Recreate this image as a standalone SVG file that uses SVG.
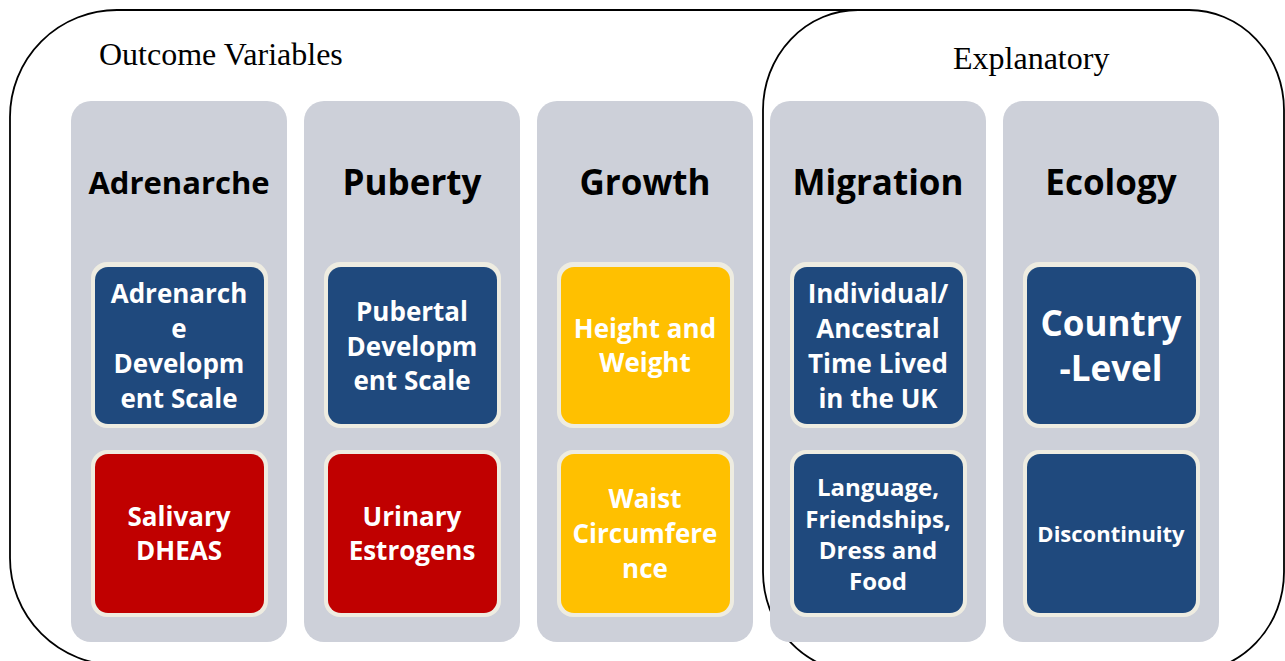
<svg xmlns="http://www.w3.org/2000/svg" width="1285" height="661" viewBox="0 0 1285 661">
<style>
.frame{fill:#fff;stroke:#000;stroke-width:1.8}
.col{fill:#CDD0D9}
.rim{fill:#EEECE1}
.blue{fill:#1F497D}
.red{fill:#C00000}
.yel{fill:#FFC000}
.title{font-family:"Open Sans","DejaVu Sans",sans-serif;font-weight:700;font-size:35px;fill:#000;text-anchor:middle}
.lbl{font-family:"Open Sans","DejaVu Sans",sans-serif;font-weight:700;fill:#fff;text-anchor:middle;dominant-baseline:central}
.serif{font-family:"Liberation Serif","Times New Roman",serif;font-size:32px;fill:#000}
</style>
<g id="outcome-frame">
<rect class="frame" x="10" y="10" width="1000" height="655" rx="107" ry="107"/>
<text class="serif" x="99" y="65">Outcome Variables</text>
</g>
<g id="explanatory-frame">
<rect class="frame" x="763" y="10" width="521" height="662" rx="95" ry="100"/>
<text class="serif" x="953" y="69">Explanatory</text>
</g>
<g id="adrenarche">
<rect class="col" x="71" y="101" width="216" height="541" rx="20"/>
<text class="title" x="179" y="194" style="font-size:31px">Adrenarche</text>
<rect class="rim" x="91" y="262" width="177" height="166" rx="16"/>
<rect class="blue" x="95" y="267" width="169" height="157" rx="13"/>
<text class="lbl" font-size="26"><tspan x="179" y="293">Adrenarch</tspan><tspan x="179" y="328">e</tspan><tspan x="179" y="363">Developm</tspan><tspan x="179" y="398">ent Scale</tspan></text>
<rect class="rim" x="91" y="450" width="177" height="167" rx="16"/>
<rect class="red" x="95" y="454" width="169" height="159" rx="13"/>
<text class="lbl" font-size="26"><tspan x="179" y="516">Salivary</tspan><tspan x="179" y="550">DHEAS</tspan></text>
</g>
<g id="puberty">
<rect class="col" x="304" y="101" width="216" height="541" rx="20"/>
<text class="title" x="412" y="195">Puberty</text>
<rect class="rim" x="324" y="262" width="177" height="166" rx="16"/>
<rect class="blue" x="328" y="267" width="169" height="157" rx="13"/>
<text class="lbl" font-size="26"><tspan x="412" y="311">Pubertal</tspan><tspan x="412" y="346">Developm</tspan><tspan x="412" y="380">ent Scale</tspan></text>
<rect class="rim" x="324" y="450" width="177" height="167" rx="16"/>
<rect class="red" x="328" y="454" width="169" height="159" rx="13"/>
<text class="lbl" font-size="26"><tspan x="412" y="516">Urinary</tspan><tspan x="412" y="550">Estrogens</tspan></text>
</g>
<g id="growth">
<rect class="col" x="537" y="101" width="216" height="541" rx="20"/>
<text class="title" x="645" y="195">Growth</text>
<rect class="rim" x="557" y="262" width="177" height="166" rx="16"/>
<rect class="yel" x="561" y="267" width="169" height="157" rx="13"/>
<text class="lbl" font-size="26"><tspan x="645" y="328">Height and</tspan><tspan x="645" y="362">Weight</tspan></text>
<rect class="rim" x="557" y="450" width="177" height="167" rx="16"/>
<rect class="yel" x="561" y="454" width="169" height="159" rx="13"/>
<text class="lbl" font-size="26"><tspan x="645" y="498">Waist</tspan><tspan x="645" y="533">Circumfere</tspan><tspan x="645" y="568">nce</tspan></text>
</g>
<g id="migration">
<rect class="col" x="770" y="101" width="216" height="541" rx="20"/>
<text class="title" x="878" y="195">Migration</text>
<rect class="rim" x="790" y="262" width="177" height="166" rx="16"/>
<rect class="blue" x="794" y="267" width="169" height="157" rx="13"/>
<text class="lbl" font-size="26"><tspan x="878" y="293">Individual/</tspan><tspan x="878" y="328">Ancestral</tspan><tspan x="878" y="363">Time Lived</tspan><tspan x="878" y="398">in the UK</tspan></text>
<rect class="rim" x="790" y="450" width="177" height="167" rx="16"/>
<rect class="blue" x="794" y="454" width="169" height="159" rx="13"/>
<text class="lbl" font-size="24"><tspan x="878" y="486">Language,</tspan><tspan x="878" y="518">Friendships,</tspan><tspan x="878" y="549">Dress and</tspan><tspan x="878" y="580">Food</tspan></text>
</g>
<g id="ecology">
<rect class="col" x="1003" y="101" width="216" height="541" rx="20"/>
<text class="title" x="1111" y="195">Ecology</text>
<rect class="rim" x="1023" y="262" width="177" height="166" rx="16"/>
<rect class="blue" x="1027" y="267" width="169" height="157" rx="13"/>
<text class="lbl" font-size="35"><tspan x="1111" y="322">Country</tspan><tspan x="1111" y="367">-Level</tspan></text>
<rect class="rim" x="1023" y="450" width="177" height="167" rx="16"/>
<rect class="blue" x="1027" y="454" width="169" height="159" rx="13"/>
<text class="lbl" font-size="22"><tspan x="1111" y="533">Discontinuity</tspan></text>
</g>
<g id="connectors"/>
</svg>
